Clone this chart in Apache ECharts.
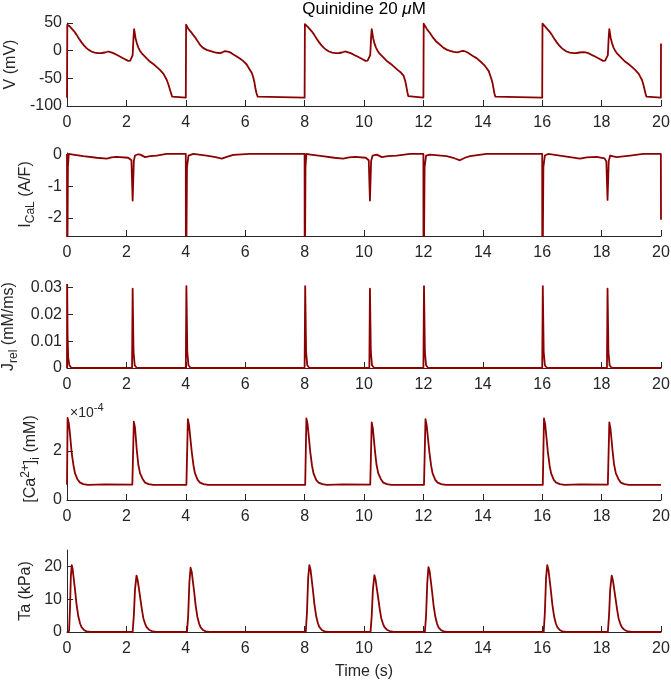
<!DOCTYPE html>
<html>
<head>
<meta charset="utf-8">
<script src="https://cdn.jsdelivr.net/npm/echarts@6/dist/echarts.min.js"></script>
<style>
html,body{margin:0;padding:0;background:#fff;}
#chart{width:671px;height:684px;}
</style>
</head>
<body>
<div id="chart"></div>
<script>
// ---------- data (time in s) ----------
const xTicks = [0, 2, 4, 6, 8, 10, 12, 14, 16, 18, 20];
const vTicks = [-100, -50, 0, 50];
const icalTicks = [-2, -1, 0];
const jrelTicks = [0, 0.01, 0.02, 0.03];
const caTicks = [0, 2e-4];
const taTicks = [0, 10, 20];

const voltage = [
 [0,-85],[0.01,47],[0.05,45.5],[0.1,43.5],[0.16,41],[0.24,35],[0.32,29],[0.4,22],[0.49,15],[0.57,9.5],[0.65,5],[0.73,1.5],[0.82,-1.5],[0.93,-3.5],[1.05,-4.4],[1.17,-4.2],[1.28,-3.3],[1.34,-2],[1.39,-1.5],[1.46,-2.5],[1.56,-4.4],[1.67,-7.5],[1.78,-10.6],[1.92,-14.5],[2.06,-18.4],[2.13,-18],[2.17,-16.6],[2.21,-8],[2.24,25],[2.26,39],[2.28,32],[2.31,22],[2.35,13.7],[2.4,6],[2.45,0.5],[2.51,-4.4],[2.6,-9.5],[2.7,-15],[2.79,-19.7],[2.95,-26],[3.13,-34.8],[3.25,-42],[3.36,-53],[3.42,-62],[3.47,-71],[3.51,-78],[3.54,-83],[3.58,-85],
 [4.0,-85],[4.01,47],[4.06,42],[4.12,37],[4.2,32],[4.3,25],[4.4,17],[4.48,10.6],[4.58,5],[4.7,1.5],[4.81,-0.3],[4.95,-2.5],[5.05,-3.8],[5.15,-4.4],[5.25,-2.5],[5.32,-0.8],[5.37,-0.3],[5.45,-2],[5.52,-4],[5.59,-6.3],[5.7,-10],[5.82,-14],[5.93,-18.4],[6.05,-25],[6.16,-34.8],[6.22,-40],[6.27,-48],[6.31,-57],[6.34,-67],[6.38,-77],[6.42,-83],[6.46,-85],
 [8.0,-85],[8.01,48],[8.05,46],[8.1,43.5],[8.16,41],[8.24,35],[8.32,29],[8.4,22],[8.49,15],[8.57,9.5],[8.65,5],[8.73,1.5],[8.82,-1.5],[8.93,-3.5],[9.05,-4.4],[9.16,-4.2],[9.26,-3.3],[9.31,-2],[9.36,-1.5],[9.44,-2.5],[9.55,-4.4],[9.66,-7.5],[9.78,-10.6],[9.92,-14.5],[10.05,-18.4],[10.12,-18],[10.16,-16.6],[10.21,-8],[10.24,25],[10.26,39],[10.28,32],[10.31,22],[10.35,13.7],[10.4,6],[10.45,0.5],[10.51,-4.4],[10.6,-9.5],[10.7,-15],[10.79,-19.7],[10.95,-26],[11.13,-34.8],[11.25,-40],[11.33,-45],[11.39,-55],[11.43,-66],[11.46,-75],[11.49,-82],[11.52,-85],
 [12.0,-85],[12.01,49],[12.06,44],[12.13,38],[12.22,32],[12.32,24],[12.44,16],[12.56,10.6],[12.68,5],[12.8,1.5],[12.9,-0.5],[13.02,-2.2],[13.15,-3],[13.25,-1.5],[13.34,-0.3],[13.42,-1.5],[13.5,-3.8],[13.56,-6.3],[13.68,-10],[13.79,-13.5],[13.93,-20],[14.05,-26],[14.13,-31.7],[14.2,-37],[14.25,-45],[14.3,-53],[14.33,-59],[14.36,-68],[14.39,-77],[14.42,-83],[14.45,-85],
 [16.0,-85],[16.01,49],[16.05,46],[16.1,43.5],[16.16,41],[16.24,35],[16.32,29],[16.4,22],[16.49,15],[16.57,9.5],[16.65,5],[16.73,1.5],[16.82,-1.5],[16.93,-3.5],[17.05,-4.4],[17.16,-4.2],[17.26,-3.3],[17.32,-2.5],[17.38,-2.5],[17.46,-3],[17.55,-4.4],[17.66,-7.5],[17.78,-10.6],[17.92,-14.5],[18.05,-18.4],[18.12,-18],[18.16,-16.6],[18.21,-8],[18.24,25],[18.26,39],[18.28,32],[18.31,22],[18.35,13.7],[18.4,6],[18.45,0.5],[18.51,-4.4],[18.6,-9.5],[18.7,-15],[18.79,-19.7],[18.95,-26],[19.13,-34.8],[19.25,-42],[19.36,-53],[19.41,-62],[19.45,-71],[19.48,-78],[19.51,-83],[19.55,-85],
 [19.995,-85],[20,13]
];

const ical = [
 [0,0.02],[0.004,-5],[0.03,-0.4],[0.06,0.02],[0.2,0.0],[0.55,-0.05],[1.0,-0.1],[1.34,-0.13],[1.5,-0.09],[1.67,-0.07],[2.06,-0.1],[2.17,-0.18],[2.21,-1.45],[2.25,-0.2],[2.29,-0.03],[2.4,0.01],[2.47,0.0],[2.63,-0.08],[2.8,-0.05],[3.02,-0.03],[3.35,0.02],
 [4.0,0.02],[4.004,-5],[4.04,-0.4],[4.09,-0.03],[4.25,0.02],[4.7,-0.03],[5.0,-0.08],[5.21,-0.13],[5.38,-0.07],[5.6,-0.01],[6.16,0.02],
 [8.0,0.02],[8.004,-5],[8.03,-0.4],[8.06,0.02],[8.2,0.0],[8.6,-0.05],[9.0,-0.1],[9.3,-0.13],[9.5,-0.09],[9.7,-0.07],[10.06,-0.1],[10.16,-0.18],[10.2,-1.45],[10.24,-0.2],[10.29,-0.03],[10.43,0.0],[10.6,-0.08],[10.8,-0.05],[11.1,-0.03],[11.55,0.02],
 [12.0,0.02],[12.004,-5],[12.04,-0.4],[12.09,-0.03],[12.22,0.0],[12.78,-0.05],[13.0,-0.1],[13.23,-0.18],[13.4,-0.1],[13.57,-0.05],[14.13,0.02],
 [16.0,0.02],[16.004,-5],[16.04,-0.4],[16.09,-0.03],[16.2,0.02],[16.71,-0.05],[17.27,-0.13],[17.5,-0.09],[17.83,-0.07],[18.1,-0.12],[18.16,-0.22],[18.2,-1.43],[18.24,-0.2],[18.29,-0.03],[18.35,0.0],[18.5,-0.08],[18.96,-0.03],[19.4,0.02],
 [19.995,0.02],[20,-2.06]
];

const jrel = [
 [0,0],[0.004,0.034],[0.02,0.012],[0.04,0.004],[0.08,0.001],[0.15,0],
 [2.19,0],[2.21,0.0296],[2.24,0.006],[2.28,0.001],[2.35,0],
 [4.0,0],[4.02,0.0306],[4.05,0.006],[4.09,0.001],[4.16,0],
 [8.0,0],[8.02,0.0306],[8.05,0.006],[8.09,0.001],[8.16,0],
 [10.18,0],[10.2,0.0296],[10.23,0.006],[10.27,0.001],[10.34,0],
 [12.0,0],[12.02,0.0306],[12.05,0.006],[12.09,0.001],[12.16,0],
 [16.0,0],[16.02,0.0306],[16.05,0.006],[16.09,0.001],[16.16,0],
 [18.18,0],[18.2,0.0296],[18.23,0.006],[18.27,0.001],[18.34,0],
 [20,0]
];

const cai = [
 [0,0.62e-4],[0.02,3.35e-4],[0.06,3.15e-4],[0.1,2.7e-4],[0.16,1.9e-4],[0.22,1.4e-4],[0.27,1.09e-4],[0.35,0.85e-4],[0.44,0.71e-4],[0.55,0.65e-4],[0.7,0.62e-4],[1.3,0.64e-4],[2.2,0.63e-4],
 [2.25,3.2e-4],[2.29,2.95e-4],[2.35,2.04e-4],[2.4,1.45e-4],[2.46,1.09e-4],[2.55,0.85e-4],[2.63,0.71e-4],[2.75,0.65e-4],[2.9,0.62e-4],
 [4.02,0.62e-4],[4.07,3.3e-4],[4.11,3.05e-4],[4.2,1.97e-4],[4.26,1.4e-4],[4.31,1.09e-4],[4.4,0.82e-4],[4.48,0.71e-4],[4.6,0.65e-4],[4.75,0.62e-4],[6,0.62e-4],
 [8.02,0.62e-4],[8.06,3.33e-4],[8.1,3.1e-4],[8.19,1.97e-4],[8.25,1.4e-4],[8.3,1.09e-4],[8.39,0.82e-4],[8.47,0.71e-4],[8.6,0.65e-4],[8.75,0.62e-4],[9.3,0.64e-4],[10.21,0.63e-4],
 [10.26,3.17e-4],[10.3,2.9e-4],[10.37,2.0e-4],[10.42,1.45e-4],[10.48,1.09e-4],[10.57,0.85e-4],[10.65,0.71e-4],[10.77,0.65e-4],[10.92,0.62e-4],
 [12.02,0.62e-4],[12.07,3.3e-4],[12.11,3.05e-4],[12.2,1.97e-4],[12.26,1.4e-4],[12.31,1.09e-4],[12.4,0.82e-4],[12.48,0.71e-4],[12.6,0.65e-4],[12.75,0.62e-4],
 [16.02,0.62e-4],[16.06,3.33e-4],[16.1,3.1e-4],[16.19,1.97e-4],[16.25,1.4e-4],[16.3,1.09e-4],[16.39,0.82e-4],[16.47,0.71e-4],[16.6,0.65e-4],[16.75,0.62e-4],[17.3,0.64e-4],[18.21,0.63e-4],
 [18.26,3.17e-4],[18.3,2.9e-4],[18.37,2.0e-4],[18.42,1.45e-4],[18.48,1.09e-4],[18.57,0.85e-4],[18.65,0.71e-4],[18.77,0.65e-4],[18.92,0.62e-4],[20,0.62e-4]
];

const ta = [
 [0,0],[0.07,0.3],[0.1,7],[0.13,17],[0.16,20.4],[0.19,19.2],[0.23,16],[0.27,12.9],[0.32,8.5],[0.38,4.8],[0.44,2.6],[0.49,1.5],[0.57,0.6],[0.66,0.2],[0.8,0],
 [2.21,0],[2.25,5],[2.29,13],[2.34,17.2],[2.38,15.8],[2.42,13.3],[2.46,10.8],[2.52,7],[2.57,4.2],[2.63,2.5],[2.68,1.5],[2.76,0.7],[2.85,0.3],[3.0,0],
 [4.04,0],[4.08,5],[4.12,15],[4.16,19.6],[4.2,18.3],[4.24,15.3],[4.28,12.4],[4.33,8.2],[4.39,4.6],[4.45,2.5],[4.5,1.4],[4.58,0.6],[4.67,0.2],[4.8,0],
 [8.04,0],[8.08,6],[8.12,16.5],[8.16,20.4],[8.2,19],[8.24,15.9],[8.28,12.8],[8.33,8.5],[8.39,4.8],[8.45,2.6],[8.5,1.5],[8.58,0.6],[8.67,0.2],[8.8,0],
 [10.22,0],[10.26,5],[10.3,13],[10.35,17.3],[10.39,15.9],[10.43,13.4],[10.47,10.9],[10.53,7],[10.58,4.2],[10.64,2.5],[10.69,1.5],[10.77,0.7],[10.86,0.3],[11.0,0],
 [12.05,0],[12.09,5],[12.13,15],[12.17,19.8],[12.21,18.5],[12.25,15.5],[12.29,12.5],[12.34,8.3],[12.4,4.7],[12.46,2.5],[12.51,1.4],[12.59,0.6],[12.68,0.2],[12.8,0],
 [16.05,0],[16.09,6],[16.13,16.5],[16.17,20.4],[16.21,19],[16.25,15.9],[16.29,12.8],[16.34,8.5],[16.4,4.8],[16.46,2.6],[16.51,1.5],[16.59,0.6],[16.68,0.2],[16.8,0],
 [18.21,0],[18.25,5],[18.29,13],[18.34,17.2],[18.38,15.8],[18.42,13.3],[18.46,10.8],[18.52,7],[18.57,4.2],[18.63,2.5],[18.68,1.5],[18.76,0.7],[18.85,0.3],[19.0,0],
 [20,0]
];

// ---------- styling ----------
const FONT = 'Liberation Sans, Arial, Helvetica, sans-serif';
const AX = '#262626';
const LINE = '#8B0000';
const TICK_FS = 16;
const NAME_FS = 16;

const panels = [
  {top: 23,  height: 83, min: -100,  max: 50,     ticks: vTicks,    data: voltage, gap: 36,
   name: '{n|V (mV)}', fmt: v => String(v)},
  {top: 153, height: 83, min: -2.57, max: 0.05,   ticks: icalTicks, data: ical,    gap: 30,
   name: '{n|I}{s|CaL}{n| (A/F)}', fmt: v => String(v)},
  {top: 285, height: 83, min: 0,     max: 0.031,  ticks: jrelTicks, data: jrel,    gap: 46,
   name: '{n|J}{s|rel}{n| (mM/ms)}', fmt: v => String(v)},
  {top: 418, height: 82, min: 0,     max: 3.35e-4,ticks: caTicks,   data: cai,     gap: 25,
   name: '{n|[Ca}{p|2+}{n|]}{s|i}{n| (mM)}', fmt: v => String(Math.round(v / 1e-4))},
  {top: 550, height: 82, min: 0,     max: 25,     ticks: taTicks,   data: ta,      gap: 28,
   name: '{n|Ta (kPa)}', fmt: v => String(v)}
];

const richName = {
  n: {fontSize: NAME_FS, fontFamily: FONT, color: AX, lineHeight: 22, verticalAlign: 'middle'},
  s: {fontSize: 12, fontFamily: FONT, color: AX, lineHeight: 22, verticalAlign: 'bottom'},
  p: {fontSize: 12, fontFamily: FONT, color: AX, lineHeight: 22, verticalAlign: 'top'}
};

const grids = [], xAxes = [], yAxes = [], series = [];
panels.forEach((p, i) => {
  grids.push({left: 67, right: 10, top: p.top, height: p.height, containLabel: false, outerBoundsMode: 'none'});
  const last = i === panels.length - 1;
  xAxes.push({
    type: 'value', gridIndex: i, min: 0, max: 20, interval: 2,
    axisLine: {show: true, onZero: false, lineStyle: {color: AX, width: 1}},
    axisTick: {show: true, inside: true, length: 6, lineStyle: {color: AX}},
    axisLabel: {show: true, margin: 9, color: AX, fontSize: TICK_FS, fontFamily: FONT,
                customValues: xTicks, showMinLabel: true, showMaxLabel: true, hideOverlap: false},
    splitLine: {show: false},
    name: last ? 'Time (s)' : '', nameLocation: 'middle', nameGap: 32,
    nameTextStyle: {fontSize: 16, fontFamily: FONT, color: AX}
  });
  yAxes.push({
    type: 'value', gridIndex: i, min: p.min, max: p.max,
    axisLine: {show: true, onZero: false, lineStyle: {color: AX, width: 1}},
    axisTick: {show: true, inside: true, length: 6, customValues: p.ticks, lineStyle: {color: AX}},
    axisLabel: {show: true, margin: 5, color: AX, fontSize: TICK_FS, fontFamily: FONT,
                customValues: p.ticks, formatter: p.fmt, hideOverlap: false},
    splitLine: {show: false},
    name: p.name, nameLocation: 'middle', nameRotate: 90, nameGap: p.gap,
    nameTextStyle: {rich: richName}
  });
  series.push({
    type: 'line', xAxisIndex: i, yAxisIndex: i, data: p.data,
    showSymbol: false, symbol: 'none', clip: true,
    lineStyle: {color: LINE, width: 1.8, join: 'round'}, animation: false
  });
});

const chart = echarts.init(document.getElementById('chart'), null, {renderer: 'canvas'});
chart.setOption({
  backgroundColor: '#fff',
  animation: false,
  grid: grids, xAxis: xAxes, yAxis: yAxes, series: series,
  graphic: [
    {type: 'text', x: 364, y: 1, style: {
      text: '{t|Quinidine 20 }{i|μ}{t|M}',
      align: 'center', verticalAlign: 'top',
      rich: {t: {fontSize: 17, fontFamily: FONT, fill: '#000'},
             i: {fontSize: 17, fontFamily: FONT, fontStyle: 'italic', fill: '#000'}}
    }},
    {type: 'text', x: 70, y: 402, style: {
      text: '{t|×10}{p|-4}',
      rich: {t: {fontSize: 14, fontFamily: FONT, fill: AX, lineHeight: 18, verticalAlign: 'bottom'},
             p: {fontSize: 11, fontFamily: FONT, fill: AX, lineHeight: 18, verticalAlign: 'top'}}
    }}
  ]
});
</script>
</body>
</html>
